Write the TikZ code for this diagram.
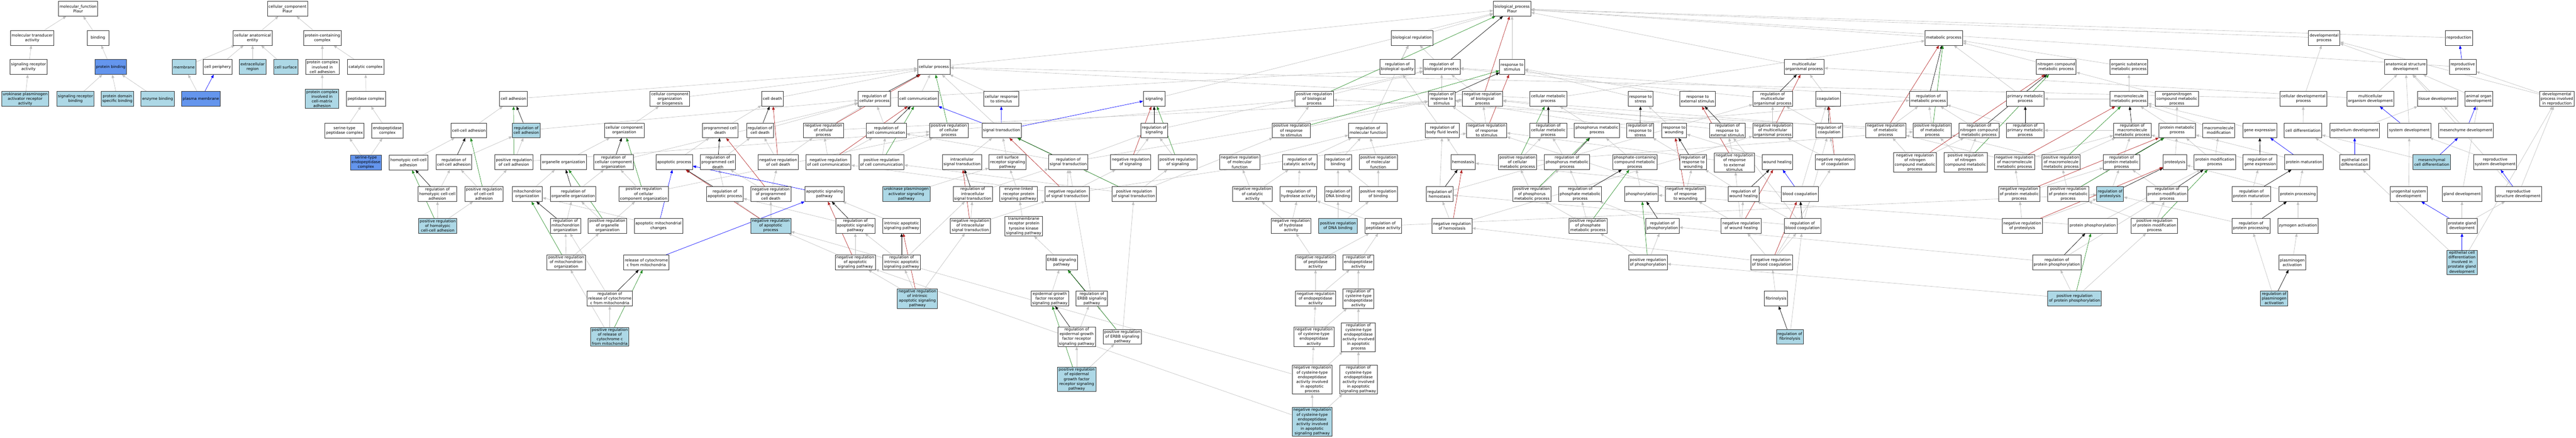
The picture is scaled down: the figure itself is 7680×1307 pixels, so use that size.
\documentclass[tikz,border=0pt]{standalone}
\usepackage{fontspec}
\setmainfont{DejaVu Sans}
\usepackage{tikz}
\usetikzlibrary{arrows.meta}
\usetikzlibrary{shapes,backgrounds}
\definecolor{hitblue}{HTML}{ADD8E6}
\definecolor{coreblue}{HTML}{6495ED}
\definecolor{edgegray}{HTML}{C0C0C0}
\definecolor{posgreen}{HTML}{228B22}
\definecolor{negred}{HTML}{B22222}
\begin{document}
\begin{tikzpicture}
	[x=0.5pt,y=-0.5pt,
	every node/.style={font=\fontsize{5.75}{7}\selectfont},
	term/.style={rectangle,draw=black!80,fill=white,line width=0.6pt,align=center,inner xsep=1.75pt,inner ysep=1.25pt,minimum width=32.5pt,minimum height=22pt},
	hit/.style={term,fill=hitblue},
	core/.style={term,fill=coreblue},
	isa/.style={draw=edgegray,line width=0.5pt,-{Triangle[length=5pt,width=4pt]}},
	reg/.style={isa,draw=black},
	posreg/.style={isa,draw=posgreen},
	negreg/.style={isa,draw=negred},
	partof/.style={isa,draw=blue}]
	\useasboundingbox (0,0) rectangle (7680,1307);
	% molecular function
	\node[term] (mf) at (233,26) {molecular\_function\\Plaur};
	\node[term] (mtr) at (96,113) {molecular transducer\\activity};
	\node[term] (bind) at (292,113) {binding};
	\node[term] (sra) at (85,200) {signaling receptor\\activity};
	\node[core] (pbind) at (330,200) {protein binding};
	\node[hit] (upar) at (75,295) {urokinase plasminogen\\activator receptor\\activity};
	\node[hit] (srb) at (225,295) {signaling receptor\\binding};
	\node[hit] (pdsb) at (350,295) {protein domain\\specific binding};
	\node[hit] (enzb) at (470,295) {enzyme binding};
	% cellular component
	\node[hit] (membr) at (549,200) {membrane};
	\node[term] (cper) at (649,200) {cell periphery};
	\node[core] (pmem) at (599,295) {plasma membrane};
	\node[term] (cc) at (857,26) {cellular\_component\\Plaur};
	\node[term] (cae) at (753,113) {cellular anatomical\\entity};
	\node[term] (pcc) at (961,113) {protein-containing\\complex};
	\node[hit] (exreg) at (753,200) {extracellular\\region};
	\node[hit] (csurf) at (852,200) {cell surface};
	\node[term] (pcca) at (961,200) {protein complex\\involved in\\cell adhesion};
	\node[term] (catc) at (1090,200) {catalytic complex};
	\node[hit] (pccm) at (960,295) {protein complex\\involved in\\cell-matrix\\adhesion};
	\node[term] (pepc) at (1091,295) {peptidase complex};
	\node[term] (stpc) at (1027,390) {serine-type\\peptidase complex};
	\node[term] (endc) at (1155,390) {endopeptidase\\complex};
	\node[core] (stec) at (1091,485) {serine-type\\endopeptidase\\complex};
	% biological process
	\node[term] (hcca) at (1218,485) {homotypic cell-cell\\adhesion};
	\node[term] (rhcca) at (1304,579) {regulation of\\homotypic cell-cell\\adhesion};
	\node[hit] (prhcca) at (1305,674) {positive regulation\\of homotypic\\cell-cell adhesion};
	\node[term] (cadh) at (1531,295) {cell adhesion};
	\node[term] (ccadh) at (1398,389) {cell-cell adhesion};
	\node[hit] (rcadh) at (1569,389) {regulation of\\cell adhesion};
	\node[term] (ccorg) at (1861,389) {cellular component\\organization};
	\node[term] (rccadh) at (1353,484) {regulation of\\cell-cell adhesion};
	\node[term] (prcadh) at (1532,484) {positive regulation\\of cell adhesion};
	\node[term] (oorg) at (1680,484) {organelle organization};
	\node[term] (rccorg) at (1829,484) {regulation of\\cellular component\\organization};
	\node[term] (prccadh) at (1443,579) {positive regulation\\of cell-cell\\adhesion};
	\node[term] (morg) at (1572,579) {mitochondrion\\organization};
	\node[term] (roorg) at (1709,579) {regulation of\\organelle organization};
	\node[term] (prccorg) at (1919,579) {positive regulation\\of cellular\\component organization};
	\node[term] (rmorg) at (1686,674) {regulation of\\mitochondrion\\organization};
	\node[term] (proorg) at (1811,674) {positive regulation\\of organelle\\organization};
	\node[term] (amc) at (1963,674) {apoptotic mitochondrial\\changes};
	\node[term] (prmorg) at (1688,783) {positive regulation\\of mitochondrion\\organization};
	\node[term] (rcyt) at (1927,783) {release of cytochrome\\c from mitochondria};
	\node[term] (rrcyt) at (1818,891) {regulation of\\release of cytochrome\\c from mitochondria};
	\node[hit] (prrcyt) at (1818,1005) {positive regulation\\of release of\\cytochrome c\\from mitochondria};
	\node[term] (ccob) at (1997,295) {cellular component\\organization\\or biogenesis};
	\node[term] (cdeath) at (2303,295) {cell death};
	\node[term] (pcd) at (2147,389) {programmed cell\\death};
	\node[term] (rcdeath) at (2266,389) {regulation of\\cell death};
	\node[term] (nrcp) at (2455,389) {negative regulation\\of cellular\\process};
	\node[term] (rcp) at (2607,295) {regulation of\\cellular process};
	\node[term] (apop) at (2010,484) {apoptotic process};
	\node[term] (rpcd) at (2140,484) {regulation of\\programmed cell\\death};
	\node[term] (nrcdeath) at (2320,484) {negative regulation\\of cell death};
	\node[term] (nrcc) at (2470,484) {negative regulation\\of cell communication};
	\node[term] (rapop) at (2161,579) {regulation of\\apoptotic process};
	\node[term] (nrpcd) at (2298,579) {negative regulation\\of programmed\\cell death};
	\node[term] (asp) at (2458,579) {apoptotic signaling\\pathway};
	\node[hit] (nrapop) at (2298,674) {negative regulation\\of apoptotic\\process};
	\node[term] (rasp) at (2550,674) {regulation of\\apoptotic signaling\\pathway};
	\node[term] (nrasp) at (2550,783) {negative regulation\\of apoptotic\\signaling pathway};
	\node[term] (cproc) at (2784,200) {cellular process};
	\node[term] (ccomm) at (2738,295) {cell communication};
	\node[term] (crs) at (2985,295) {cellular response\\to stimulus};
	\node[term] (rccomm) at (2642,389) {regulation of\\cell communication};
	\node[term] (prcp) at (2829,389) {positive regulation\\of cellular\\process};
	\node[term] (strans) at (2986,389) {signal transduction};
	\node[term] (prccomm) at (2628,484) {positive regulation\\of cell communication};
	\node[term] (icst) at (2868,484) {intracellular\\signal transduction};
	\node[term] (csrsp) at (3004,484) {cell surface\\receptor signaling\\pathway};
	\node[term] (rst) at (3185,484) {regulation of\\signal transduction};
	\node[hit] (upasp) at (2702,579) {urokinase plasminogen\\activator signaling\\pathway};
	\node[term] (ricst) at (2900,579) {regulation of\\intracellular\\signal transduction};
	\node[term] (elrsp) at (3037,579) {enzyme-linked\\receptor protein\\signaling pathway};
	\node[term] (nrst) at (3182,579) {negative regulation\\of signal transduction};
	\node[term] (iasp) at (2688,674) {intrinsic apoptotic\\signaling pathway};
	\node[term] (nricst) at (2893,674) {negative regulation\\of intracellular\\signal transduction};
	\node[term] (rtk) at (3052,675) {transmembrane\\receptor protein\\tyrosine kinase\\signaling pathway};
	\node[term] (riasp) at (2688,783) {regulation of\\intrinsic apoptotic\\signaling pathway};
	\node[term] (erbb) at (3165,783) {ERBB signaling\\pathway};
	\node[hit] (nriasp) at (2735,891) {negative regulation\\of intrinsic\\apoptotic signaling\\pathway};
	\node[term] (egfr) at (3130,891) {epidermal growth\\factor receptor\\signaling pathway};
	\node[term] (regfr) at (3210,1005) {regulation of\\epidermal growth\\factor receptor\\signaling pathway};
	\node[hit] (pregfr) at (3210,1132) {positive regulation\\of epidermal\\growth factor\\receptor signaling\\pathway};
	\node[term] (sig) at (3441,295) {signaling};
	\node[term] (rsig) at (3441,389) {regulation of\\signaling};
	\node[term] (prrs) at (3850,389) {positive regulation\\of response\\to stimulus};
	\node[term] (nrsig) at (3371,484) {negative regulation\\of signaling};
	\node[term] (prsig) at (3511,484) {positive regulation\\of signaling};
	\node[term] (nrmf) at (3696,484) {negative regulation\\of molecular\\function};
	\node[term] (rcat) at (3875,484) {regulation of\\catalytic activity};
	\node[term] (prst) at (3381,579) {positive regulation\\of signal transduction};
	\node[term] (nrcat) at (3734,579) {negative regulation\\of catalytic\\activity};
	\node[term] (rhyd) at (3871,579) {regulation of\\hydrolase activity};
	\node[term] (nrhyd) at (3849,674) {negative regulation\\of hydrolase\\activity};
	\node[term] (rerbb) at (3255,891) {regulation of\\ERBB signaling\\pathway};
	\node[term] (prerbb) at (3346,1005) {positive regulation\\of ERBB signaling\\pathway};
	\node[term] (bp) at (4508,26) {biological\_process\\Plaur};
	\node[term] (breg) at (4210,113) {biological regulation};
	\node[term] (rbq) at (4166,200) {regulation of\\biological quality};
	\node[term] (rbp) at (4298,200) {regulation of\\biological process};
	\node[term] (rstim) at (4508,200) {response to\\stimulus};
	\node[term] (prbp) at (3918,295) {positive regulation\\of biological\\process};
	\node[term] (rrs) at (4298,295) {regulation of\\response to\\stimulus};
	\node[term] (nrbp) at (4420,295) {negative regulation\\of biological\\process};
	\node[term] (rmf) at (4078,389) {regulation of\\molecular function};
	\node[term] (rbfl) at (4300,389) {regulation of\\body fluid levels};
	\node[term] (nrrs) at (4432,389) {negative regulation\\of response\\to stimulus};
	\node[term] (rbind) at (3989,484) {regulation of\\binding};
	\node[term] (prmf) at (4109,484) {positive regulation\\of molecular\\function};
	\node[term] (hemo) at (4362,484) {hemostasis};
	\node[term] (prcmp) at (4524,484) {positive regulation\\of cellular\\metabolic process};
	\node[term] (rdna) at (3989,579) {regulation of\\DNA binding};
	\node[term] (prbind) at (4109,579) {positive regulation\\of binding};
	\node[term] (rhemo) at (4292,579) {regulation of\\hemostasis};
	\node[hit] (prdna) at (3989,674) {positive regulation\\of DNA binding};
	\node[term] (rpep) at (4124,674) {regulation of\\peptidase activity};
	\node[term] (nrhemo) at (4329,674) {negative regulation\\of hemostasis};
	\node[term] (nrpep) at (3922,783) {negative regulation\\of peptidase\\activity};
	\node[term] (rendo) at (4050,783) {regulation of\\endopeptidase\\activity};
	\node[term] (nrendo) at (3922,891) {negative regulation\\of endopeptidase\\activity};
	\node[term] (rcys) at (4050,891) {regulation of\\cysteine-type\\endopeptidase\\activity};
	\node[term] (nrcys) at (3917,1005) {negative regulation\\of cysteine-type\\endopeptidase\\activity};
	\node[term] (rcysap) at (4050,1006) {regulation of\\cysteine-type\\endopeptidase\\activity involved\\in apoptotic\\process};
	\node[term] (nrcysap) at (3912,1133) {negative regulation\\of cysteine-type\\endopeptidase\\activity involved\\in apoptotic\\process};
	\node[term] (rcysas) at (4050,1133) {regulation of\\cysteine-type\\endopeptidase\\activity involved\\in apoptotic\\signaling pathway};
	\node[hit] (nrcysas) at (3912,1259) {negative regulation\\of cysteine-type\\endopeptidase\\activity involved\\in apoptotic\\signaling pathway};
	\node[term] (cmp) at (4616,295) {cellular metabolic\\process};
	\node[term] (rstress) at (4891,295) {response to\\stress};
	\node[term] (rext) at (5061,295) {response to\\external stimulus};
	\node[term] (rcmp) at (4616,389) {regulation of\\cellular metabolic\\process};
	\node[term] (phmp) at (4761,389) {phosphorus metabolic\\process};
	\node[term] (rrstress) at (4890,389) {regulation of\\response to\\stress};
	\node[term] (rwound) at (4991,389) {response to\\wounding};
	\node[term] (rrext) at (5150,389) {regulation of\\response to\\external stimulus};
	\node[term] (rphmp) at (4672,484) {regulation of\\phosphorus metabolic\\process};
	\node[term] (pcmp) at (4874,484) {phosphate-containing\\compound metabolic\\process};
	\node[term] (rrw) at (5048,484) {regulation of\\response to\\wounding};
	\node[term] (nrrext) at (5171,485) {negative regulation\\of response\\to external\\stimulus};
	\node[term] (prphmp) at (4567,579) {positive regulation\\of phosphorus\\metabolic process};
	\node[term] (rpmp) at (4711,579) {regulation of\\phosphate metabolic\\process};
	\node[term] (phos) at (4894,579) {phosphorylation};
	\node[term] (nrrw) at (5025,579) {negative regulation\\of response\\to wounding};
	\node[term] (prpmp) at (4734,674) {positive regulation\\of phosphate\\metabolic process};
	\node[term] (rphos) at (4956,674) {regulation of\\phosphorylation};
	\node[term] (prphos) at (4913,783) {positive regulation\\of phosphorylation};
	\node[term] (metp) at (5795,113) {metabolic process};
	\node[term] (mop) at (5379,200) {multicellular\\organismal process};
	\node[term] (rmop) at (5285,295) {regulation of\\multicellular\\organismal process};
	\node[term] (coag) at (5450,295) {coagulation};
	\node[term] (rmet) at (5749,295) {regulation of\\metabolic process};
	\node[term] (nrmop) at (5285,389) {negative regulation\\of multicellular\\organismal process};
	\node[term] (rcoag) at (5453,389) {regulation of\\coagulation};
	\node[term] (nrmet) at (5622,389) {negative regulation\\of metabolic\\process};
	\node[term] (prmet) at (5761,389) {positive regulation\\of metabolic\\process};
	\node[term] (wheal) at (5299,484) {wound healing};
	\node[term] (nrcoag) at (5471,484) {negative regulation\\of coagulation};
	\node[term] (nrncmp) at (5709,485) {negative regulation\\of nitrogen\\compound metabolic\\process};
	\node[term] (rwheal) at (5198,579) {regulation of\\wound healing};
	\node[term] (bcoag) at (5366,579) {blood coagulation};
	\node[term] (nrwheal) at (5191,674) {negative regulation\\of wound healing};
	\node[term] (rbcoag) at (5374,674) {regulation of\\blood coagulation};
	\node[term] (nrbcoag) at (5282,783) {negative regulation\\of blood coagulation};
	\node[term] (fibr) at (5295,891) {fibrinolysis};
	\node[hit] (rfibr) at (5336,1005) {regulation of\\fibrinolysis};
	\node[term] (ncmp) at (6130,200) {nitrogen compound\\metabolic process};
	\node[term] (osmp) at (6347,200) {organic substance\\metabolic process};
	\node[term] (pmp) at (6038,295) {primary metabolic\\process};
	\node[term] (mmp) at (6347,295) {macromolecule\\metabolic process};
	\node[term] (rncmp) at (5900,389) {regulation of\\nitrogen compound\\metabolic process};
	\node[term] (rprim) at (6038,389) {regulation of\\primary metabolic\\process};
	\node[term] (rmmp) at (6357,389) {regulation of\\macromolecule\\metabolic process};
	\node[term] (prncmp) at (5860,485) {positive regulation\\of nitrogen\\compound metabolic\\process};
	\node[term] (nrmmp) at (6006,484) {negative regulation\\of macromolecule\\metabolic process};
	\node[term] (prmmp) at (6145,484) {positive regulation\\of macromolecule\\metabolic process};
	\node[term] (rprotm) at (6325,484) {regulation of\\protein metabolic\\process};
	\node[term] (nrprotm) at (6020,579) {negative regulation\\of protein metabolic\\process};
	\node[term] (prprotm) at (6166,579) {positive regulation\\of protein metabolic\\process};
	\node[hit] (rprot) at (6291,579) {regulation of\\proteolysis};
	\node[term] (rpmod) at (6461,579) {regulation of\\protein modification\\process};
	\node[term] (nrprot) at (6029,674) {negative regulation\\of proteolysis};
	\node[term] (pphos) at (6239,674) {protein phosphorylation};
	\node[term] (prpmod) at (6423,674) {positive regulation\\of protein modification\\process};
	\node[term] (rpphos) at (6132,783) {regulation of\\protein phosphorylation};
	\node[hit] (prpphos) at (6185,891) {positive regulation\\of protein phosphorylation};
	\node[term] (devp) at (6929,113) {developmental\\process};
	\node[term] (onmp) at (6490,295) {organonitrogen\\compound metabolic\\process};
	\node[term] (cdevp) at (6867,295) {cellular developmental\\process};
	\node[term] (mcod) at (7067,295) {multicellular\\organism development};
	\node[term] (protm) at (6491,389) {protein metabolic\\process};
	\node[term] (mmod) at (6615,389) {macromolecule\\modification};
	\node[term] (gexp) at (6737,389) {gene expression};
	\node[term] (cdiff) at (6866,389) {cell differentiation};
	\node[term] (epid) at (7020,389) {epithelium development};
	\node[term] (prot) at (6484,484) {proteolysis};
	\node[term] (pmod) at (6603,484) {protein modification\\process};
	\node[term] (rgexp) at (6738,484) {regulation of\\gene expression};
	\node[term] (pmat) at (6869,484) {protein maturation};
	\node[term] (ecdiff) at (7020,484) {epithelial cell\\differentiation};
	\node[term] (rpmat) at (6712,579) {regulation of\\protein maturation};
	\node[term] (pproc) at (6851,579) {protein processing};
	\node[term] (rpproc) at (6711,674) {regulation of\\protein processing};
	\node[term] (zymo) at (6851,674) {zymogen activation};
	\node[term] (plas) at (6834,783) {plasminogen\\activation};
	\node[hit] (rplas) at (6780,891) {regulation of\\plasminogen\\activation};
	\node[term] (repro) at (7331,113) {reproduction};
	\node[term] (asd) at (7172,200) {anatomical structure\\development};
	\node[term] (rproc) at (7342,200) {reproductive\\process};
	\node[term] (tdev) at (7267,295) {tissue development};
	\node[term] (aodev) at (7390,295) {animal organ\\development};
	\node[term] (dpir) at (7623,295) {developmental\\process involved\\in reproduction};
	\node[term] (sdev) at (7183,389) {system development};
	\node[term] (mdev) at (7352,389) {mesenchyme development};
	\node[hit] (mcdiff) at (7250,484) {mesenchymal\\cell differentiation};
	\node[term] (rsdev) at (7439,484) {reproductive\\system development};
	\node[term] (ugsd) at (7181,579) {urogenital system\\development};
	\node[term] (gdev) at (7340,579) {gland development};
	\node[term] (rsd) at (7508,579) {reproductive\\structure development};
	\node[term] (pgd) at (7340,674) {prostate gland\\development};
	\node[hit] (ecdpg) at (7340,783) {epithelial cell\\differentiation\\involved in\\prostate gland\\development};
	% connectors
	\begin{scope}[on background layer]
	\foreach \a/\b in {mtr/mf,bind/mf,sra/mtr,upar/sra,pbind/bind,srb/pbind,pdsb/pbind,enzb/pbind,
		cae/cc,pcc/cc,membr/cae,cper/cae,exreg/cae,csurf/cae,pmem/membr,pcca/pcc,catc/pcc,pccm/pcca,pepc/catc,stpc/pepc,endc/pepc,stec/stpc,stec/endc,
		hcca/ccadh,ccadh/cadh,cadh/cproc,rccadh/rcadh,prcadh/rcadh,rhcca/rccadh,prccadh/rccadh,prccadh/prcadh,prhcca/rhcca,prhcca/prccadh,rcadh/rcp,prcadh/prcp,
		morg/oorg,oorg/ccorg,ccorg/ccob,roorg/rccorg,proorg/roorg,proorg/prccorg,prccorg/rccorg,rmorg/roorg,prmorg/rmorg,prmorg/proorg,rrcyt/rmorg,prrcyt/rrcyt,prrcyt/prmorg,amc/morg,rccorg/rcp,prccorg/prcp,
		ccob/cproc,cdeath/cproc,pcd/cdeath,rpcd/rcdeath,nrcdeath/rcdeath,nrcdeath/nrcp,nrcc/nrcp,rcdeath/rcp,nrcp/rcp,apop/pcd,rapop/rpcd,nrpcd/rpcd,nrpcd/nrcdeath,nrapop/rapop,nrapop/nrpcd,nrasp/rasp,nrasp/nrapop,rasp/rapop,iasp/asp,riasp/rasp,riasp/ricst,nriasp/riasp,nriasp/nrasp,nriasp/nricst,nrcysap/nrapop,nrcysas/nrasp,
		ccomm/cproc,crs/cproc,strans/cproc,cproc/bp,rcp/rbp,prcp/prbp,nrcp/nrbp,rccomm/rcp,prccomm/rccomm,prccomm/prcp,nrcc/rccomm,
		icst/strans,csrsp/strans,upasp/csrsp,elrsp/csrsp,rtk/elrsp,erbb/rtk,egfr/erbb,ricst/rst,nricst/ricst,nricst/nrst,nrst/rst,rst/rccomm,nrst/nrcc,prst/prccomm,prst/rst,prst/prsig,rst/rsig,nrst/nrsig,nrsig/rsig,prsig/rsig,regfr/rerbb,pregfr/regfr,pregfr/prerbb,prerbb/rerbb,rerbb/rst,prerbb/prst,
		sig/bp,rsig/rbp,prst/prrs,rst/rrs,nrst/nrrs,prrs/prbp,prrs/rrs,nrrs/nrbp,nrrs/rrs,rrs/rbp,rbp/breg,rbq/breg,breg/bp,rstim/bp,prbp/rbp,nrbp/rbp,rmf/breg,
		rbind/rmf,prmf/rmf,rcat/rmf,nrmf/rmf,rdna/rbind,prbind/rbind,prbind/prmf,prdna/rdna,prdna/prbind,rhyd/rcat,nrcat/rcat,nrcat/nrmf,nrhyd/rhyd,nrhyd/nrcat,rpep/rhyd,nrpep/rpep,nrpep/nrhyd,rendo/rpep,nrendo/nrpep,nrendo/rendo,rcys/rendo,nrcys/nrendo,nrcys/rcys,rcysap/rcys,nrcysap/nrcys,nrcysap/rcysap,rcysas/rcysap,nrcysas/nrcysap,nrcysas/rcysas,
		rbfl/rbq,hemo/rbfl,rhemo/rbfl,nrhemo/rhemo,rhemo/rmop,nrhemo/nrmop,rpep/rprot,
		cmp/cproc,cmp/metp,phmp/cmp,rcmp/rmet,prcmp/rcmp,prcmp/prmet,rstress/rstim,rext/rstim,rwound/rstress,rrstress/rrs,rrext/rrs,rrw/rrstress,nrrw/rrw,nrrw/nrrs,nrrext/rrext,nrrext/nrrs,
		rphmp/rcmp,pcmp/phmp,rpmp/rphmp,phos/pcmp,prphmp/rphmp,prphmp/prcmp,prpmp/rpmp,prpmp/prphmp,rphos/rpmp,prphos/rphos,prphos/prpmp,
		wheal/rwound,bcoag/coag,bcoag/hemo,coag/mop,rmop/rbp,nrmop/rmop,nrmop/nrbp,rcoag/rmop,nrcoag/rcoag,nrcoag/nrmop,rwheal/rrw,nrwheal/rwheal,nrwheal/nrrw,rbcoag/rcoag,rbcoag/rwheal,rbcoag/rhemo,rbcoag/rrext,nrbcoag/rbcoag,nrbcoag/nrwheal,nrbcoag/nrcoag,nrbcoag/nrhemo,fibr/nrbcoag,rfibr/rbcoag,nrwheal/nrrext,
		rmet/rbp,nrmet/rmet,nrmet/nrbp,prmet/rmet,prmet/prbp,nrncmp/nrmet,nrncmp/rncmp,mop/bp,metp/bp,
		ncmp/metp,pmp/metp,osmp/metp,mmp/osmp,mmp/pmp,onmp/ncmp,protm/onmp,protm/mmp,mmod/mmp,gexp/mmp,
		rncmp/rmet,rprim/rmet,rmmp/rprim,rprotm/rmmp,prncmp/rncmp,prncmp/prmet,nrmmp/rmmp,nrmmp/nrmet,prmmp/rmmp,prmmp/prmet,nrprotm/nrmmp,nrprotm/rprotm,prprotm/prmmp,prprotm/rprotm,rprot/rprotm,nrprot/nrprotm,nrprot/rprot,rpmod/rprotm,prpmod/rpmod,prpmod/prprotm,pphos/pmod,pphos/phos,rpphos/rpmod,rpphos/rphos,prpphos/rpphos,prpphos/prpmod,prpphos/prphos,
		prot/protm,pmod/mmod,pmod/protm,pmat/protm,pproc/pmat,pproc/prot,rpmat/rgexp,rpproc/rpmat,rpproc/rprot,zymo/pproc,plas/zymo,rplas/rpproc,rgexp/rmmp,
		cdevp/devp,cdevp/cproc,cdiff/cdevp,ecdiff/cdiff,mcdiff/cdiff,devp/bp,asd/devp,mcod/asd,mcod/mop,tdev/asd,aodev/asd,sdev/asd,rsd/asd,epid/tdev,mdev/tdev,ugsd/sdev,rsdev/sdev,gdev/aodev,rsd/dpir,dpir/rproc,dpir/devp,rproc/bp,repro/bp,pgd/gdev,pgd/rsd,ecdpg/ecdiff,ecdpg/dpir}
		\draw[isa] (\a) -- (\b);
	\foreach \a/\b in {rhcca/hcca,rcadh/cadh,rccadh/ccadh,roorg/oorg,rccorg/ccorg,rmorg/morg,rrcyt/rcyt,rcdeath/cdeath,rpcd/pcd,rapop/apop,rasp/asp,rcp/cproc,rccomm/ccomm,rst/strans,ricst/icst,riasp/iasp,regfr/egfr,rerbb/erbb,rsig/sig,rbp/bp,rrs/rstim,rhemo/hemo,rcmp/cmp,rphmp/phmp,rpmp/pcmp,rphos/phos,rrstress/rstress,rrw/rwound,rrext/rext,rmop/mop,rcoag/coag,rwheal/wheal,rbcoag/bcoag,rfibr/fibr,rmet/metp,rncmp/ncmp,rprim/pmp,rmmp/mmp,rprotm/protm,rprot/prot,rpmod/pmod,rpphos/pphos,rgexp/gexp,rpmat/pmat,rpproc/pproc,rplas/plas}
		\draw[reg] (\a) -- (\b);
	\foreach \a/\b in {prhcca/hcca,prcadh/cadh,prccadh/ccadh,proorg/oorg,prccorg/ccorg,prmorg/morg,prrcyt/rcyt,prcp/cproc,prccomm/ccomm,prst/strans,pregfr/egfr,prerbb/erbb,prsig/sig,prbp/bp,prrs/rstim,prcmp/cmp,prphmp/phmp,prpmp/pcmp,prphos/phos,prmet/metp,prncmp/ncmp,prmmp/mmp,prprotm/protm,prpmod/pmod,prpphos/pphos}
		\draw[posreg] (\a) -- (\b);
	\foreach \a/\b in {nrcdeath/cdeath,nrpcd/pcd,nrapop/apop,nrasp/asp,nrcp/cproc,nrcc/ccomm,nrst/strans,nricst/icst,nriasp/iasp,nrsig/sig,nrbp/bp,nrrs/rstim,nrhemo/hemo,nrrw/rwound,nrrext/rext,nrmop/mop,nrcoag/coag,nrwheal/wheal,nrbcoag/bcoag,nrmet/metp,nrncmp/ncmp,nrmmp/mmp,nrprotm/protm,nrprot/prot}
		\draw[negreg] (\a) -- (\b);
	\foreach \a/\b in {pmem/cper,amc/apop,asp/apop,rcyt/asp,strans/ccomm,strans/crs,strans/sig,bcoag/wheal,pmat/gexp,ecdiff/epid,sdev/mcod,mdev/aodev,mcdiff/mdev,rsd/rsdev,pgd/ugsd,ecdpg/pgd,rproc/repro}
		\draw[partof] (\a) -- (\b);
	\end{scope}
\end{tikzpicture}
\end{document}
